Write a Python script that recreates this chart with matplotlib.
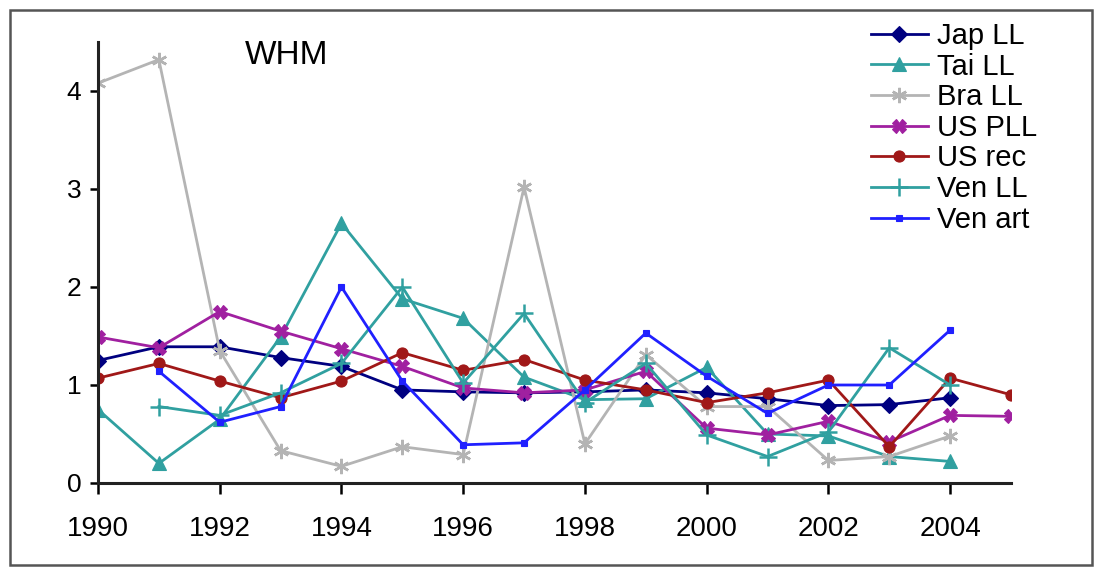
import numpy as np
import matplotlib
matplotlib.use("Agg")
import matplotlib.pyplot as plt
from matplotlib.patches import Rectangle

plt.rcParams['font.family'] = ['Liberation Sans', 'DejaVu Sans']

nan = np.nan
years = list(range(1990, 2006))

# WHM series
jap_ll = [1.25, 1.39, 1.39, 1.28, 1.19, 0.95, 0.93, 0.92, 0.93, 0.95, 0.92, 0.86, 0.79, 0.80, 0.87, nan]
tai_ll = [0.75, 0.20, 0.65, 1.49, 2.65, 1.88, 1.68, 1.08, 0.85, 0.86, 1.18, 0.50, 0.48, 0.27, 0.22, nan]
bra_ll = [4.08, 4.32, 1.35, 0.33, 0.17, 0.37, 0.29, 3.02, 0.40, 1.31, 0.78, 0.78, 0.23, 0.27, 0.48, nan]
us_pll = [1.49, 1.38, 1.75, 1.55, 1.37, 1.19, 0.97, 0.92, 0.95, 1.14, 0.56, 0.49, 0.63, 0.42, 0.69, 0.68]
us_rec = [1.07, 1.22, 1.04, 0.87, 1.04, 1.33, 1.15, 1.26, 1.05, 0.95, 0.82, 0.92, 1.05, 0.37, 1.07, 0.90]
ven_ll = [nan, 0.78, 0.69, 0.92, 1.22, 2.00, 1.02, 1.73, 0.82, 1.22, 0.49, 0.27, 0.52, 1.38, 1.00, nan]
ven_art = [nan, 1.14, 0.62, 0.78, 2.00, 1.04, 0.39, 0.41, 0.95, 1.53, 1.09, 0.71, 1.00, 1.00, 1.56, nan]

labels = ['Jap LL', 'Tai LL', 'Bra LL', 'US PLL', 'US rec', 'Ven LL', 'Ven art']
series = [jap_ll, tai_ll, bra_ll, us_pll, us_rec, ven_ll, ven_art]
colors = ['#000080', '#30a0a0', '#b4b4b4', '#a020a0', '#a01818', '#30a0a0', '#2020ff']
markers = ['D', '^', (6, 2, 0), 'X', 'o', '+', 's']
msizes = [8, 10, 11, 10, 8, 13, 5]

fig = plt.figure(figsize=(10.95, 5.67), dpi=100)
ax = fig.add_axes([98 / 1095, 1 - 483 / 567, (1011 - 98) / 1095, (483 - 42) / 567])

for y, lab, c, m, ms in zip(series, labels, colors, markers, msizes):
    ax.plot(years, y, color=c, marker=m, markersize=ms, lw=2.0,
            markeredgewidth=1.8 if m in ('+', (6, 2, 0)) else 0.8,
            markeredgecolor=c, label=lab)

ax.set_xlim(1990, 2005)
ax.set_ylim(0, 4.5)
ax.set_xticks(range(1990, 2005, 2))
ax.set_yticks([0, 1, 2, 3, 4])
for s in ['top', 'right']:
    ax.spines[s].set_visible(False)
for s in ['left', 'bottom']:
    ax.spines[s].set_linewidth(2.2)
    ax.spines[s].set_color('#222222')
ax.tick_params(axis='x', labelsize=20, length=8, width=1.8, pad=16)
ax.tick_params(axis='y', labelsize=19, length=6, width=1.8, pad=6)

fig.text(245 / 1095, 1 - 56 / 567, 'WHM', fontsize=24, va='center', ha='left')

ax.legend(loc='upper left', bbox_to_anchor=(871 / 1095, 1 - 22 / 567),
          bbox_transform=fig.transFigure, frameon=False, fontsize=21,
          handlelength=1.95, handletextpad=0.3, labelspacing=0.09,
          borderaxespad=0, borderpad=0)

fig.patches.append(Rectangle((10 / 1095, 2 / 567), 1082 / 1095, 555 / 567,
                             transform=fig.transFigure, fill=False,
                             edgecolor='#555555', lw=1.8))

fig.savefig('out.png', dpi=100)
